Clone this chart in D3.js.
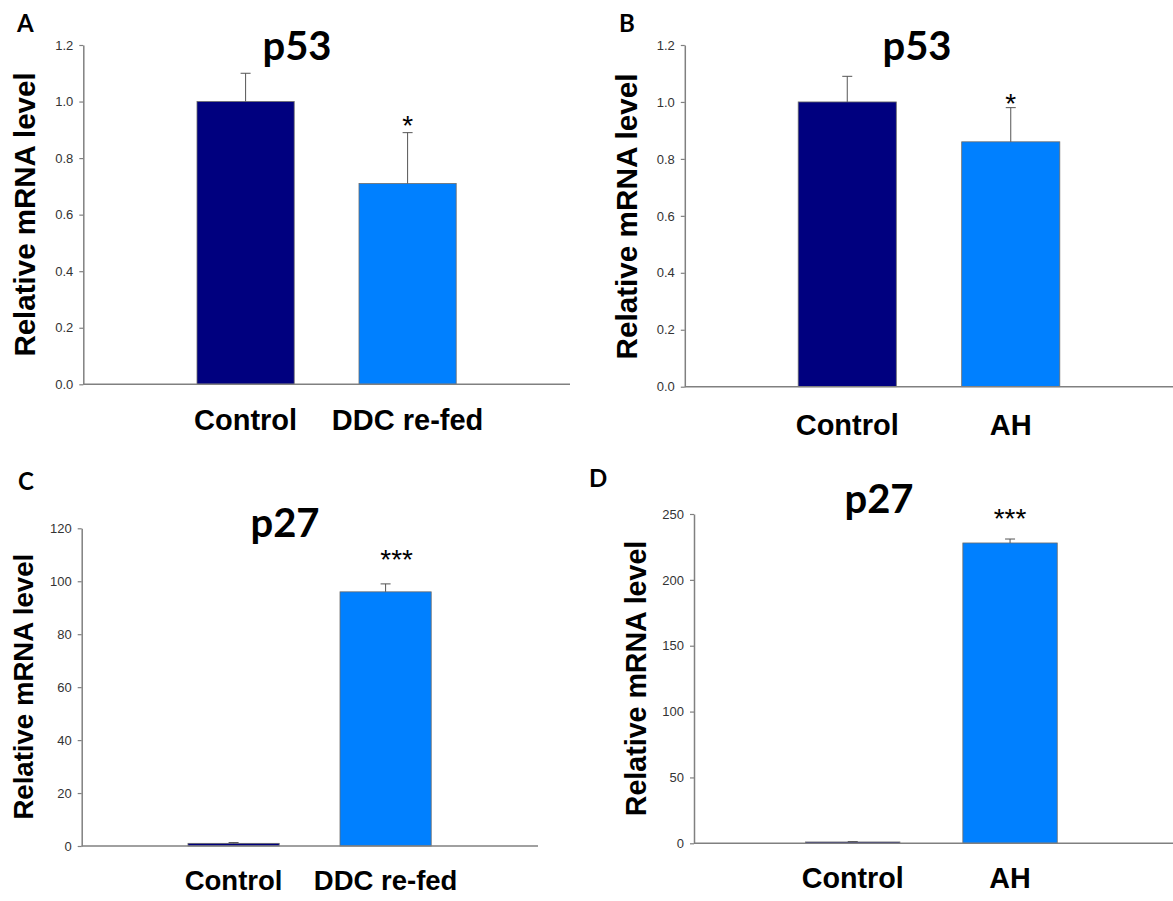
<!DOCTYPE html>
<html>
<head>
<meta charset="utf-8">
<script src="https://cdn.jsdelivr.net/npm/d3@7"></script>
<style>
  body { margin: 0; background: #fff; }
  svg { display: block; }
</style>
</head>
<body>
<svg id="canvas" width="1173" height="901"></svg>
<script>
// values
let panelNames = ["A", "B", "C", "D"]
let genes = ["p53", "p53", "p27", "p27"]
let groupsA = ["Control", "DDC re-fed"]
let groupsB = ["Control", "AH"]
let groupsC = ["Control", "DDC re-fed"]
let groupsD = ["Control", "AH"]
let meansA = [1.00, 0.71]
let errorsA = [0.10, 0.18]
let meansB = [1.00, 0.86]
let errorsB = [0.09, 0.12]
let meansC = [1.0, 96]
let errorsC = [0.3, 3]
let meansD = [1.0, 228]
let errorsD = [0.3, 3]
let starsA = ["", "*"]
let starsB = ["", "*"]
let starsC = ["", "***"]
let starsD = ["", "***"]
let ticksA = [0, 0.2, 0.4, 0.6, 0.8, 1.0, 1.2]
let ticksB = [0, 0.2, 0.4, 0.6, 0.8, 1.0, 1.2]
let ticksC = [0, 20, 40, 60, 80, 100, 120]
let ticksD = [0, 50, 100, 150, 200, 250]
let barColors = ["#00007f", "#0080ff"]

let data = [
    {groups: groupsA, means: meansA, errors: errorsA, stars: starsA, ticks: ticksA, fmt: ".1f"},
    {groups: groupsB, means: meansB, errors: errorsB, stars: starsB, ticks: ticksB, fmt: ".1f"},
    {groups: groupsC, means: meansC, errors: errorsC, stars: starsC, ticks: ticksC, fmt: "d"},
    {groups: groupsD, means: meansD, errors: errorsD, stars: starsD, ticks: ticksD, fmt: "d"}
]

// where each panel sits on the page
let layout = [
    {ax: 83.3, top: 45, bottom: 384.3, axEnd: 570, band: [164.6, 488.6],
     title: [297, 60], letter: [17, 32], ylab: [35, 214.5, 29.5], cat: [430, 29], star: [9, 0]},
    {ax: 684.8, top: 45, bottom: 386.7, axEnd: 1173, band: [765.5, 1092.5],
     title: [917, 60], letter: [619, 32], ylab: [636.5, 216.5, 29.7], cat: [435, 29], star: [6, 0]},
    {ax: 81.7, top: 528.3, bottom: 846, axEnd: 538, band: [157.6, 461.6],
     title: [285, 537], letter: [18, 490], ylab: [33, 686.7, 27.6], cat: [890, 27.5], star: [26, 11]},
    {ax: 694, top: 514, bottom: 843.3, axEnd: 1173, band: [774.1, 1088.7],
     title: [879, 513], letter: [589, 487], ylab: [646, 678.5, 28.6], cat: [888, 28.7], star: [22, 0]}
]

let canvas = d3.select("#canvas")

drawPanel = (d, i) => {
    let L = layout[i]
    let g = canvas.append("g")

    let yScale = d3.scaleLinear()
                   .domain([0, d3.max(d.ticks)])
                   .range([L.bottom, L.top])
    let xScale = d3.scaleBand()
                   .domain(d.groups)
                   .range(L.band)
                   .paddingInner(0.4)
                   .paddingOuter(0.2)

    // bars
    g.selectAll(".bar")
        .data(d.groups)
        .enter()
        .append("rect")
        .attr("x", grp => xScale(grp))
        .attr("width", xScale.bandwidth())
        .attr("y", (grp, j) => yScale(d.means[j]))
        .attr("height", (grp, j) => L.bottom - yScale(d.means[j]))
        .attr("fill", (grp, j) => barColors[j])
        .attr("stroke", "#6a6a6a")
        .attr("stroke-width", 0.8)

    // upper error bars
    let eb = g.selectAll(".err")
        .data(d.groups)
        .enter()
        .append("g")
        .attr("stroke", "#555")
        .attr("stroke-width", 1)
    eb.append("line")
        .attr("x1", grp => xScale(grp) + xScale.bandwidth() / 2)
        .attr("x2", grp => xScale(grp) + xScale.bandwidth() / 2)
        .attr("y1", (grp, j) => yScale(d.means[j]))
        .attr("y2", (grp, j) => yScale(d.means[j] + d.errors[j]))
    eb.append("line")
        .attr("x1", grp => xScale(grp) + xScale.bandwidth() / 2 - 5)
        .attr("x2", grp => xScale(grp) + xScale.bandwidth() / 2 + 5)
        .attr("y1", (grp, j) => yScale(d.means[j] + d.errors[j]))
        .attr("y2", (grp, j) => yScale(d.means[j] + d.errors[j]))

    // significance stars
    g.selectAll(".star")
        .data(d.groups)
        .enter()
        .append("text")
        .attr("x", grp => xScale(grp) + xScale.bandwidth() / 2 + L.star[1])
        .attr("y", (grp, j) => yScale(d.means[j] + d.errors[j]) - L.star[0] + 11)
        .attr("text-anchor", "middle")
        .style("font-family", "'Liberation Sans', Arial, sans-serif")
        .style("font-size", "28px")
        .attr("fill", "#000")
        .text((grp, j) => d.stars[j])

    // y axis
    let yAxis = d3.axisLeft(yScale)
                  .tickValues(d.ticks)
                  .tickFormat(d3.format(d.fmt))
                  .tickSize(4)
                  .tickPadding(6)
                  .tickSizeOuter(0)
    let ya = g.append("g")
              .attr("transform", "translate(" + L.ax + ",0)")
              .call(yAxis)
    ya.select(".domain").attr("stroke", "#808080").attr("stroke-width", 1.5)
    ya.selectAll(".tick line").attr("stroke", "#808080").attr("stroke-width", 1.2)
    ya.selectAll(".tick text")
      .attr("fill", "#333")
      .style("font-family", "'Liberation Sans', Arial, sans-serif")
      .style("font-size", "13px")

    // x axis line
    g.append("line")
        .attr("x1", L.ax)
        .attr("x2", L.axEnd)
        .attr("y1", L.bottom)
        .attr("y2", L.bottom)
        .attr("stroke", "#808080")
        .attr("stroke-width", 1.5)

    // category labels
    g.selectAll(".cat")
        .data(d.groups)
        .enter()
        .append("text")
        .attr("x", grp => xScale(grp) + xScale.bandwidth() / 2)
        .attr("y", L.cat[0])
        .attr("text-anchor", "middle")
        .style("font-family", "'Liberation Sans', Arial, sans-serif")
        .style("font-weight", "bold")
        .style("font-size", L.cat[1] + "px")
        .text(grp => grp)

    // y label
    g.append("text")
        .attr("transform", "translate(" + L.ylab[0] + "," + L.ylab[1] + ") rotate(-90)")
        .attr("text-anchor", "middle")
        .style("font-family", "'Liberation Sans', Arial, sans-serif")
        .style("font-weight", "bold")
        .style("font-size", L.ylab[2] + "px")
        .text("Relative mRNA level")

    // gene title
    g.append("text")
        .attr("x", L.title[0])
        .attr("y", L.title[1])
        .attr("text-anchor", "middle")
        .style("font-family", "Lato, 'Open Sans', sans-serif")
        .style("font-weight", "bold")
        .style("font-size", "40px")
        .text(genes[i])

    // panel letter
    g.append("text")
        .attr("x", L.letter[0])
        .attr("y", L.letter[1])
        .style("font-family", "Lato, 'Open Sans', sans-serif")
        .style("font-weight", "bold")
        .style("font-size", "24px")
        .text(panelNames[i])
}

data.forEach((d, i) => drawPanel(d, i))
</script>
</body>
</html>
